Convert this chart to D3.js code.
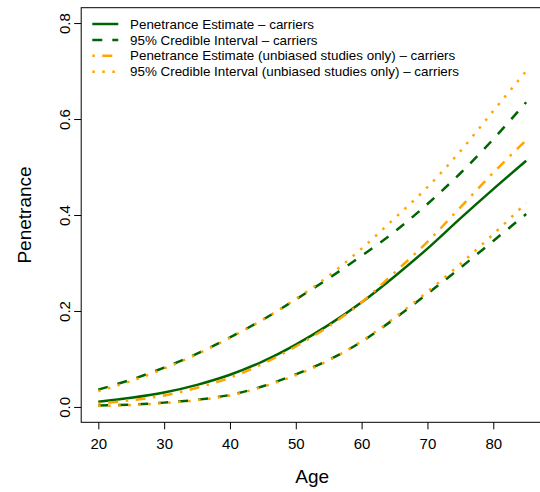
<!DOCTYPE html>
<html>
<head>
<meta charset="utf-8">
<script src="https://cdn.jsdelivr.net/npm/d3@7"></script>
<style>
  html, body { margin: 0; padding: 0; background: #fff; }
  svg { display: block; font-family: "Liberation Sans", Arial, Helvetica, sans-serif; }
</style>
</head>
<body>
<svg id="chart" width="540" height="492"></svg>
<script>
const ages = [20, 25, 30, 35, 40, 45, 50, 55, 60, 65, 70, 75, 80, 85];
const estCarriers      = [0.011, 0.019, 0.030, 0.046, 0.067, 0.095, 0.130, 0.171, 0.218, 0.272, 0.330, 0.393, 0.454, 0.513];
const upperCarriers    = [0.036, 0.057, 0.082, 0.111, 0.145, 0.182, 0.224, 0.268, 0.315, 0.365, 0.423, 0.487, 0.558, 0.635];
const lowerCarriers    = [0.003, 0.005, 0.009, 0.015, 0.025, 0.043, 0.068, 0.098, 0.136, 0.184, 0.236, 0.290, 0.346, 0.402];
const estUnbiased      = [0.007, 0.014, 0.024, 0.040, 0.061, 0.090, 0.126, 0.168, 0.218, 0.280, 0.344, 0.416, 0.488, 0.556];
const upperUnbiased    = [0.033, 0.054, 0.080, 0.110, 0.144, 0.182, 0.225, 0.273, 0.330, 0.393, 0.458, 0.533, 0.617, 0.700];
const lowerUnbiased    = [0.002, 0.004, 0.008, 0.014, 0.024, 0.042, 0.066, 0.097, 0.137, 0.186, 0.240, 0.298, 0.360, 0.425];
const xTicks = [20, 30, 40, 50, 60, 70, 80];
const yTicks = [0.0, 0.2, 0.4, 0.6, 0.8];
const legendLabels = [
  "Penetrance Estimate \u2013 carriers",
  "95% Credible Interval \u2013 carriers",
  "Penetrance Estimate (unbiased studies only) \u2013 carriers",
  "95% Credible Interval (unbiased studies only) \u2013 carriers"
];

const GREEN = "#006400", ORANGE = "#FFA500";
const LW = 2.5;
const styles = {
  solid:   { color: GREEN,  dash: null },
  dashed:  { color: GREEN,  dash: "10,10" },
  dotdash: { color: ORANGE, dash: "2.5,7.5,10,7.5" },
  dotted:  { color: ORANGE, dash: "2.5,7.5" }
};

const svg = d3.select("#chart");
const x = d3.scaleLinear().domain([17.4, 87.6]).range([81.2, 543.3]);
const y = d3.scaleLinear().domain([-0.032, 0.832]).range([422.3, 7.7]);

// plot frame
svg.append("rect")
  .attr("x", x(17.4)).attr("y", y(0.832))
  .attr("width", x(87.6) - x(17.4)).attr("height", y(-0.032) - y(0.832))
  .attr("fill", "none").attr("stroke", "#000").attr("stroke-width", 1);

// x axis
const gx = svg.append("g").attr("transform", `translate(0,${y(-0.032)})`)
  .call(d3.axisBottom(x).tickValues(xTicks).tickSize(7).tickPadding(9).tickFormat(d3.format("d")));
gx.select(".domain").remove();
gx.selectAll("text").attr("font-size", 15).attr("fill", "#000").attr("font-family", null);
gx.selectAll("line").attr("stroke", "#000");

// y axis
const gy = svg.append("g").attr("transform", `translate(${x(17.4)},0)`)
  .call(d3.axisLeft(y).tickValues(yTicks).tickSize(7).tickFormat(d3.format(".1f")));
gy.select(".domain").remove();
gy.selectAll("line").attr("stroke", "#000");
gy.selectAll("text")
  .attr("font-size", 15).attr("fill", "#000").attr("font-family", null)
  .attr("x", null).attr("dy", null)
  .attr("text-anchor", "middle")
  .attr("transform", "translate(-11,0) rotate(-90)");

// axis titles
svg.append("text").attr("x", (x(17.4) + x(87.6)) / 2).attr("y", 483)
  .attr("text-anchor", "middle").attr("font-size", 19).text("Age");
svg.append("text")
  .attr("transform", `translate(31,${(y(-0.032) + y(0.832)) / 2}) rotate(-90)`)
  .attr("text-anchor", "middle").attr("font-size", 19).text("Penetrance");

// curves
const line = d3.line().x(d => x(d[0])).y(d => y(d[1])).curve(d3.curveCatmullRom.alpha(0.5));
const series = [
  { values: estCarriers, style: "solid" },
  { values: upperCarriers, style: "dashed" },
  { values: lowerCarriers, style: "dashed" },
  { values: estUnbiased, style: "dotdash" },
  { values: upperUnbiased, style: "dotted" },
  { values: lowerUnbiased, style: "dotted" }
];
series.forEach(s => {
  const st = styles[s.style];
  svg.append("path")
    .datum(ages.map((a, i) => [a, s.values[i]]))
    .attr("d", line)
    .attr("fill", "none")
    .attr("stroke", st.color)
    .attr("stroke-width", LW)
    .attr("stroke-dasharray", st.dash);
});

// legend
const legendStyles = ["solid", "dashed", "dotdash", "dotted"];
const lg = svg.append("g");
legendLabels.forEach((lab, i) => {
  const yy = 24 + i * 15.9;
  const st = styles[legendStyles[i]];
  lg.append("line").attr("x1", 92.3).attr("x2", 118.3).attr("y1", yy).attr("y2", yy)
    .attr("stroke", st.color).attr("stroke-width", LW).attr("stroke-dasharray", st.dash);
  lg.append("text").attr("x", 130).attr("y", yy).attr("dy", "0.35em")
    .attr("font-size", 13.4).text(lab);
});
</script>
</body>
</html>
